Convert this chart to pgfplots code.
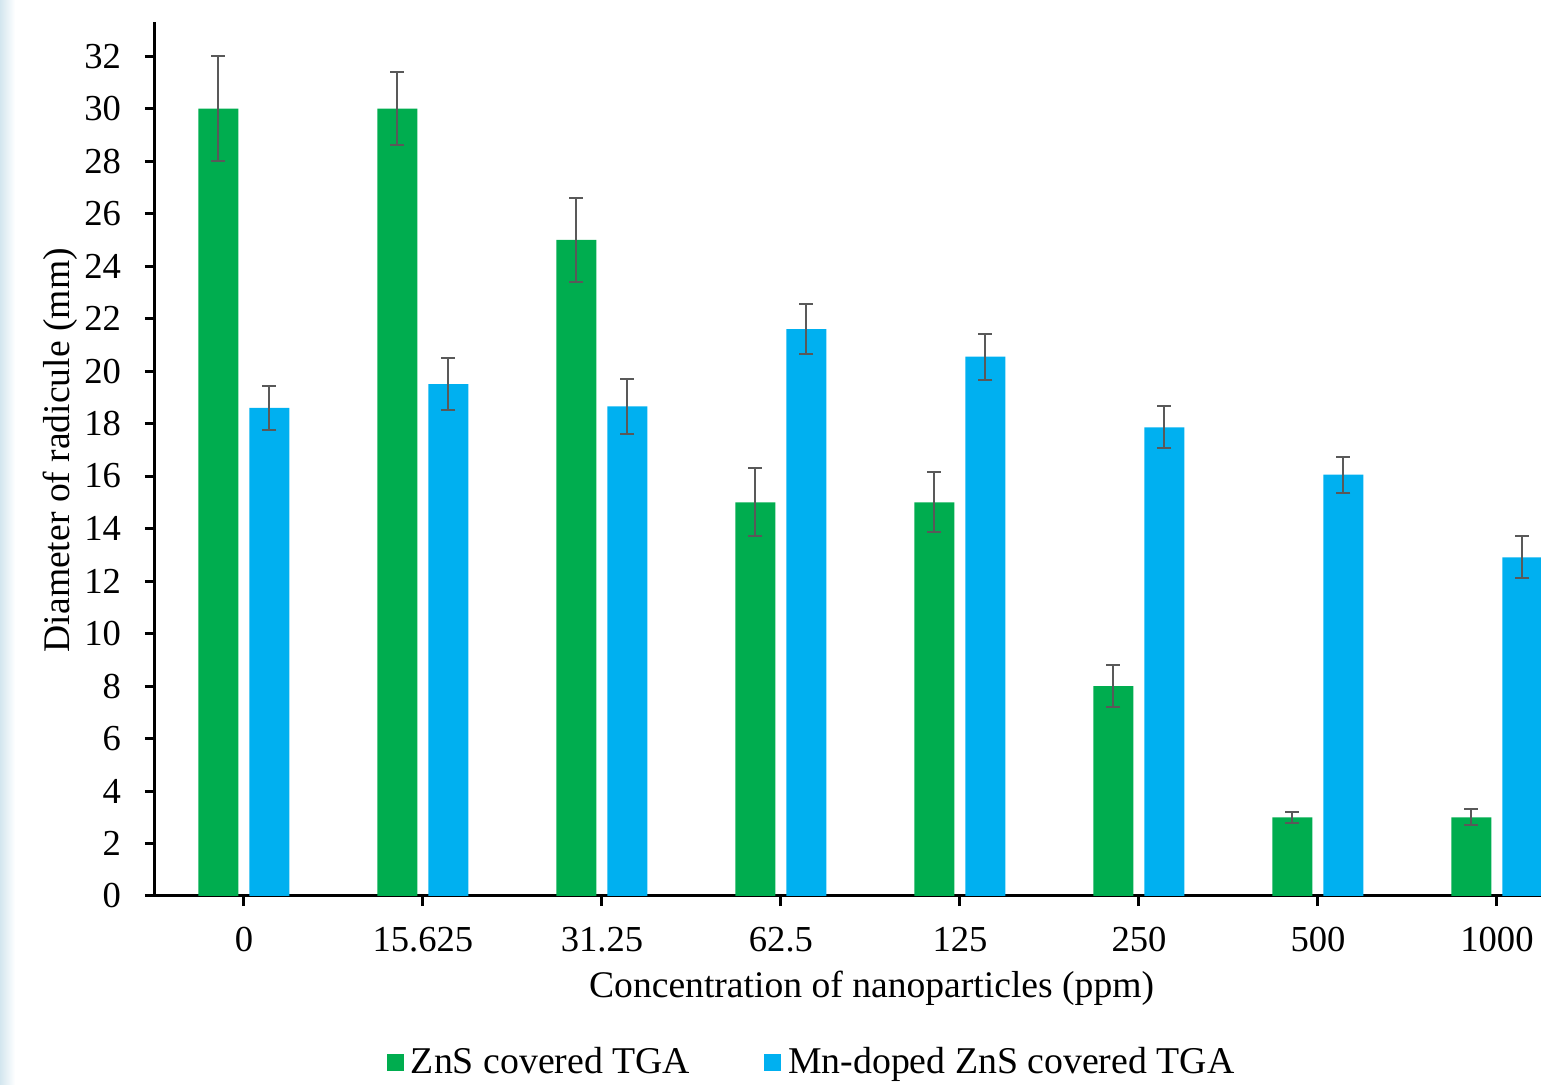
\documentclass[border=0pt]{standalone}
\usepackage{pgfplots}
\pgfplotsset{compat=1.18}
\usepackage{fontspec}
\setmainfont{Liberation Serif}
\definecolor{zgreen}{HTML}{00AD4F}
\definecolor{zblue}{HTML}{00B0F0}
\definecolor{errgray}{HTML}{595959}
\definecolor{stripcol}{HTML}{D3E6EF}
\begin{document}
\begin{tikzpicture}
\path[use as bounding box] (-77.5pt,-94.5pt) rectangle (693pt,448pt);
\fill[left color=stripcol, right color=white] (-77.5pt,-94.5pt) rectangle (-70pt,448pt);
\begin{axis}[
  at={(0pt,0pt)}, anchor=south west,
  scale only axis,
  width=693pt, height=437pt,
  xmin=-0.497, xmax=7.246,
  ymin=0, ymax=33.3,
  axis x line=bottom, axis y line=left,
  axis line style={-, line width=1.5pt, black},
  tick align=outside,
  major tick length=5pt,
  tick style={line width=1.5pt, black},
  xtick={0,1,2,3,4,5,6,7},
  xticklabels={0,15.625,31.25,62.5,125,250,500,1000},
  ytick={0,2,...,32},
  /pgf/number format/assume math mode=true,
  tick label style={font=\fontsize{18.3}{20}\selectfont},
  xticklabel style={yshift=-7pt},
  yticklabel style={xshift=-8.5pt},
  label style={font=\fontsize{18.8}{21}\selectfont},
  xlabel={Concentration of nanoparticles (ppm)},
  ylabel={Diameter of radicule (mm)},
  x label style={at={(axis description cs:0.517,-0.106)}, anchor=center},
  y label style={at={(axis description cs:-0.0685,0.51)}, anchor=center},
  clip=true,
  ybar=5.5pt,
  bar width=20pt,
  legend columns=2,
  legend style={draw=none, fill=none, at={(axis description cs:0.4745,-0.19)}, anchor=center,
    font=\fontsize{18.9}{21}\selectfont,
    /tikz/every odd column/.append style={column sep=1.5pt},
    /tikz/every even column/.append style={column sep=35pt}},
  legend image code/.code={\fill[#1] (0pt,-4.25pt) rectangle (8.5pt,4.25pt);},
  error bars/y dir=both,
  error bars/y explicit,
  error bars/error bar style={color=errgray, line width=1pt},
  error bars/error mark options={rotate=90, mark size=3.5pt, line width=1pt, color=errgray},
]
\addplot[fill=zgreen, draw=none] coordinates {
  (0,30) +- (0,2.0)
  (1,30) +- (0,1.4)
  (2,25) +- (0,1.6)
  (3,15) +- (0,1.3)
  (4,15) +- (0,1.15)
  (5,8) +- (0,0.8)
  (6,3) +- (0,0.2)
  (7,3) +- (0,0.3)
};
\addlegendentry{ZnS covered TGA}
\addplot[fill=zblue, draw=none] coordinates {
  (0,18.6) +- (0,0.85)
  (1,19.5) +- (0,1.0)
  (2,18.65) +- (0,1.05)
  (3,21.6) +- (0,0.95)
  (4,20.55) +- (0,0.88)
  (5,17.85) +- (0,0.8)
  (6,16.05) +- (0,0.68)
  (7,12.9) +- (0,0.8)
};
\addlegendentry{Mn-doped ZnS covered TGA}
\end{axis}
\end{tikzpicture}
\end{document}
